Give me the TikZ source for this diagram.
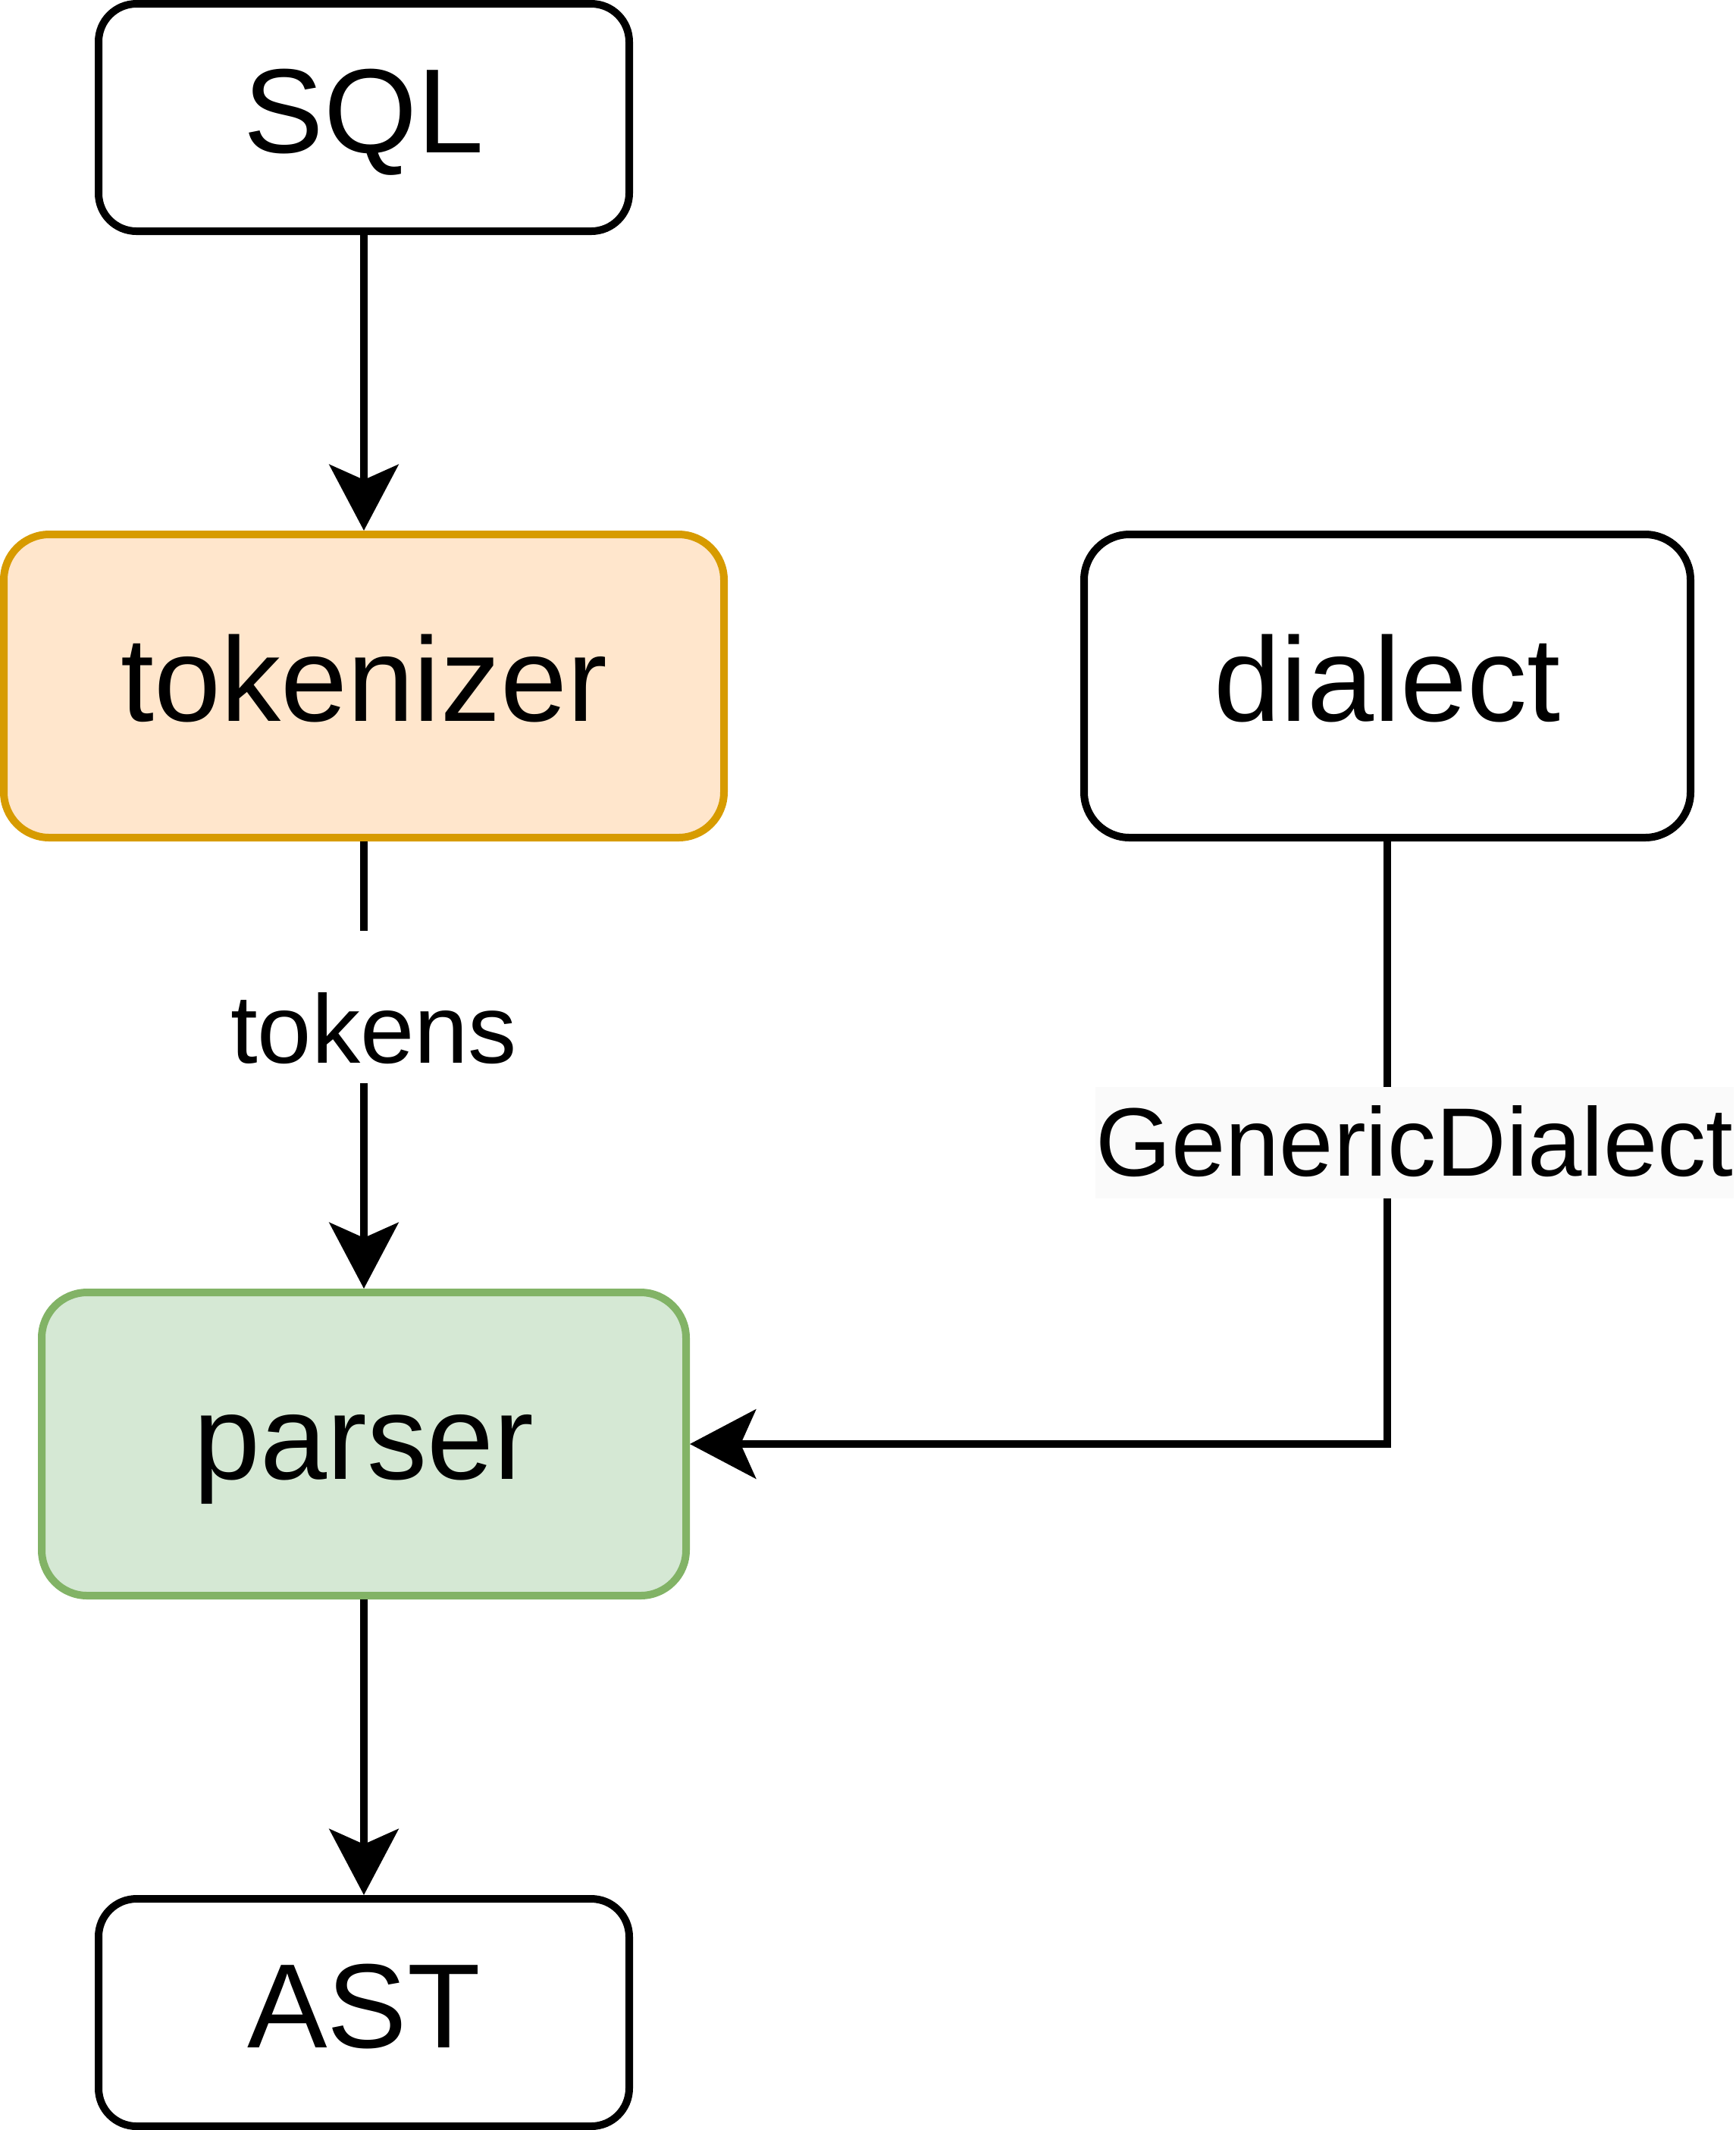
\documentclass[tikz,border=0pt]{standalone}
\usepackage{fontspec}
\setmainfont{Liberation Sans}
\usetikzlibrary{positioning, arrows.meta}

\definecolor{tokfill}{HTML}{FFE6CC}
\definecolor{tokdraw}{HTML}{D79B00}
\definecolor{parfill}{HTML}{D5E8D4}
\definecolor{pardraw}{HTML}{82B366}
\definecolor{lblfill}{HTML}{FAFAFA}

\begin{document}
\begin{tikzpicture}[
		node distance=3.9cm and 4.65cm,
		box/.style={draw, rectangle, rounded corners=0.5cm, minimum width=7cm, minimum height=3cm, align=center, line width=0.1cm, text height=1.3cm, text depth=0.38cm, font=\fontsize{45}{50}\selectfont},
		bigbox/.style={box, rounded corners=0.6cm, minimum height=4cm},
		lbl/.style={font=\fontsize{36.5}{40}\selectfont, inner ysep=0pt},
		arrow/.style={-{Stealth[length=0.87cm, width=0.91cm, inset=0.2cm]}, line width=0.1cm}
		]
		\useasboundingbox (0,0) rectangle (22.9,-28.1);
		
		% Nodes
		\node[box] (sql) at (4.8,-1.55) {SQL};
		
		\node[bigbox, minimum width=9.5cm, fill=tokfill, draw=tokdraw, below=of sql] (tokenizer) {tokenizer};
		
		\node[bigbox, minimum width=8cm, right=of tokenizer] (dialect) {dialect};
		
		\node[bigbox, minimum width=8.5cm, fill=parfill, draw=pardraw, below=5.9cm of tokenizer] (parser) {parser};
		
		\node[box, below=of parser] (ast) {AST};
		
		% Arrows
		\draw[arrow] (sql) -- (tokenizer);
		
		\draw[arrow] (tokenizer) -- node[lbl, pos=0.371, xshift=0.13cm, fill=white, text height=1.74cm, text depth=0.27cm] (tokens) {tokens} (parser);
		
		\draw[arrow] (dialect) |- node[lbl, pos=0.25, xshift=0.36cm, fill=lblfill, inner xsep=0pt, text height=1.17cm, text depth=0.3cm] (generic) {GenericDialect} (parser);
		
		\draw[arrow] (parser) -- (ast);
		
	\end{tikzpicture}
\end{document}
